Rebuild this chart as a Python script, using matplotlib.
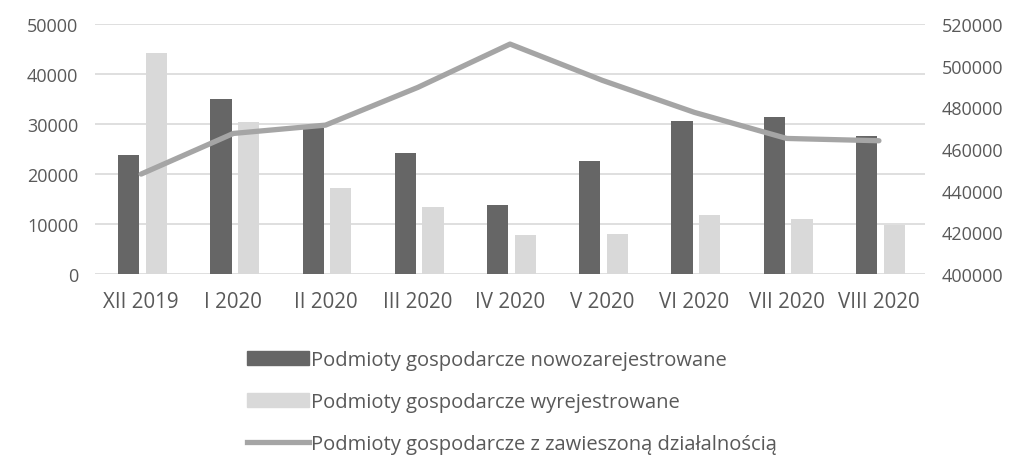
import matplotlib.pyplot as plt
import numpy as np
from matplotlib.lines import Line2D
from matplotlib.patches import Patch

months = ['XII 2019', 'I 2020', 'II 2020', 'III 2020', 'IV 2020',
          'V 2020', 'VI 2020', 'VII 2020', 'VIII 2020']
registered = [23800, 35000, 29300, 24200, 13900, 22700, 30600, 31400, 27700]
deregistered = [44200, 30500, 17300, 13500, 7800, 8100, 11900, 11100, 9900]
suspended = [448000, 467500, 471500, 489600, 510400, 493000, 477600, 465100, 464000]

plt.rcParams['font.family'] = ['Open Sans', 'DejaVu Sans']
text_col = '#595959'

fig = plt.figure(figsize=(10.26, 4.6), dpi=100)
ax = fig.add_axes([0.0926, 0.402, 0.809, 0.5435])
x = np.arange(len(months))
w = 0.23
ax.bar(x - 0.135, registered, w, color='#666666', zorder=2)
ax.bar(x + 0.165, deregistered, w, color='#d9d9d9', zorder=2)
ax.set_ylim(0, 50000)
ax.set_yticks(range(0, 50001, 10000))
ax.set_xlim(-0.5, len(months) - 0.5)
ax.set_xticks(x)
ax.set_xticklabels(months)
ax.grid(axis='y', color='#d9d9d9', linewidth=1.2, zorder=0)
for s in ax.spines.values():
    s.set_visible(False)
ax.tick_params(length=0, labelsize=13, colors=text_col)
ax.tick_params(axis='y', pad=12)
ax.tick_params(axis='x', pad=12, labelsize=14.8)

ax2 = ax.twinx()
ax2.plot(x, suspended, color='#a5a5a5', linewidth=3.8, solid_capstyle='round', zorder=3)
ax2.set_ylim(400000, 520000)
ax2.set_yticks(range(400000, 520001, 20000))
for s in ax2.spines.values():
    s.set_visible(False)
ax2.tick_params(length=0, labelsize=13, colors=text_col, pad=12)

handles = [Patch(color='#666666'), Patch(color='#d9d9d9'),
           Line2D([], [], color='#a5a5a5', linewidth=3.8)]
labels = ['Podmioty gospodarcze nowozarejestrowane',
          'Podmioty gospodarcze wyrejestrowane',
          'Podmioty gospodarcze z zawieszoną działalnością']
fig.legend(handles, labels, loc='upper left', bbox_to_anchor=(0.2407, 0.237),
           frameon=False, fontsize=14.5, labelcolor=text_col, labelspacing=1.1,
           handlelength=3.1, handleheight=0.75, handletextpad=0.1,
           borderaxespad=0, borderpad=0)

fig.savefig('out.png', dpi=100)
